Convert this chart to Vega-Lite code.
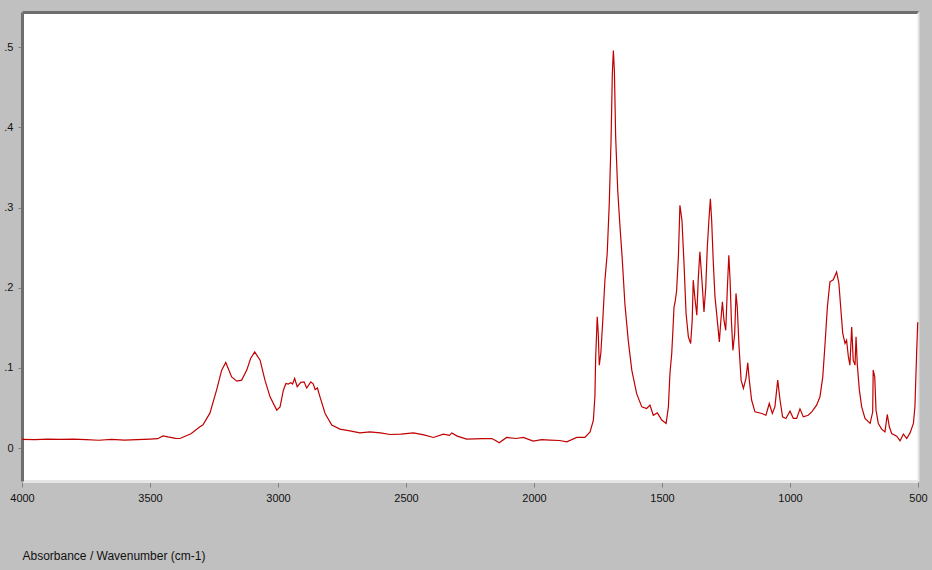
{
  "$schema": "https://vega.github.io/schema/vega-lite/v6.json",
  "width": 896,
  "height": 469,
  "autosize": {"type": "none"},
  "padding": {"left": 22, "top": 12, "right": 14, "bottom": 89},
  "background": "#c0c0c0",
  "config": {"view": {"fill": "white", "stroke": null}, "font": "Liberation Sans"},
  "data": {"values": [
    {"w": 4000, "a": 0.011}, {"w": 3950, "a": 0.0105}, {"w": 3900, "a": 0.0112}, {"w": 3850, "a": 0.0108},
    {"w": 3800, "a": 0.0113}, {"w": 3750, "a": 0.0105}, {"w": 3700, "a": 0.0098}, {"w": 3650, "a": 0.0108},
    {"w": 3600, "a": 0.0101}, {"w": 3550, "a": 0.0105}, {"w": 3500, "a": 0.0112}, {"w": 3470, "a": 0.0118},
    {"w": 3449, "a": 0.0153}, {"w": 3430, "a": 0.014}, {"w": 3400, "a": 0.0122}, {"w": 3383, "a": 0.012},
    {"w": 3340, "a": 0.018}, {"w": 3305, "a": 0.0266}, {"w": 3293, "a": 0.029}, {"w": 3266, "a": 0.0436},
    {"w": 3240, "a": 0.0723}, {"w": 3220, "a": 0.0973}, {"w": 3204, "a": 0.1068}, {"w": 3181, "a": 0.0889},
    {"w": 3161, "a": 0.0835}, {"w": 3142, "a": 0.0848}, {"w": 3122, "a": 0.0973}, {"w": 3107, "a": 0.1118},
    {"w": 3091, "a": 0.12}, {"w": 3070, "a": 0.1097}, {"w": 3051, "a": 0.0848}, {"w": 3031, "a": 0.064},
    {"w": 3005, "a": 0.0474}, {"w": 2992, "a": 0.0515}, {"w": 2979, "a": 0.0723}, {"w": 2969, "a": 0.0807},
    {"w": 2960, "a": 0.08}, {"w": 2950, "a": 0.0815}, {"w": 2943, "a": 0.08}, {"w": 2935, "a": 0.087},
    {"w": 2925, "a": 0.0765}, {"w": 2911, "a": 0.082}, {"w": 2898, "a": 0.0827}, {"w": 2888, "a": 0.075},
    {"w": 2872, "a": 0.0827}, {"w": 2862, "a": 0.08}, {"w": 2855, "a": 0.073}, {"w": 2846, "a": 0.075},
    {"w": 2836, "a": 0.064}, {"w": 2816, "a": 0.0432}, {"w": 2790, "a": 0.0287}, {"w": 2758, "a": 0.0237},
    {"w": 2719, "a": 0.0216}, {"w": 2680, "a": 0.019}, {"w": 2641, "a": 0.0203}, {"w": 2600, "a": 0.019},
    {"w": 2562, "a": 0.017}, {"w": 2520, "a": 0.0175}, {"w": 2471, "a": 0.019}, {"w": 2430, "a": 0.0165},
    {"w": 2393, "a": 0.0133}, {"w": 2354, "a": 0.0175}, {"w": 2330, "a": 0.016}, {"w": 2321, "a": 0.019},
    {"w": 2300, "a": 0.015}, {"w": 2263, "a": 0.0112}, {"w": 2200, "a": 0.0118}, {"w": 2165, "a": 0.012},
    {"w": 2150, "a": 0.0095}, {"w": 2136, "a": 0.0066}, {"w": 2107, "a": 0.0133}, {"w": 2070, "a": 0.012},
    {"w": 2042, "a": 0.0133}, {"w": 2003, "a": 0.0087}, {"w": 1970, "a": 0.0105}, {"w": 1937, "a": 0.01},
    {"w": 1900, "a": 0.0095}, {"w": 1872, "a": 0.0079}, {"w": 1833, "a": 0.0133}, {"w": 1801, "a": 0.0133},
    {"w": 1781, "a": 0.0203}, {"w": 1768, "a": 0.035}, {"w": 1762, "a": 0.065}, {"w": 1759, "a": 0.114},
    {"w": 1755, "a": 0.147}, {"w": 1753, "a": 0.1637}, {"w": 1749, "a": 0.143}, {"w": 1745, "a": 0.1035},
    {"w": 1739, "a": 0.118}, {"w": 1732, "a": 0.1555}, {"w": 1723, "a": 0.2095}, {"w": 1714, "a": 0.2428},
    {"w": 1706, "a": 0.305}, {"w": 1699, "a": 0.384}, {"w": 1694, "a": 0.467}, {"w": 1690, "a": 0.496},
    {"w": 1686, "a": 0.471}, {"w": 1681, "a": 0.388}, {"w": 1673, "a": 0.3217}, {"w": 1664, "a": 0.276},
    {"w": 1655, "a": 0.2344}, {"w": 1645, "a": 0.18}, {"w": 1632, "a": 0.1347}, {"w": 1618, "a": 0.0973},
    {"w": 1599, "a": 0.068}, {"w": 1579, "a": 0.0515}, {"w": 1560, "a": 0.0495}, {"w": 1547, "a": 0.0536},
    {"w": 1534, "a": 0.041}, {"w": 1518, "a": 0.044}, {"w": 1501, "a": 0.035}, {"w": 1484, "a": 0.0308},
    {"w": 1475, "a": 0.0515}, {"w": 1469, "a": 0.093}, {"w": 1462, "a": 0.118}, {"w": 1458, "a": 0.143},
    {"w": 1453, "a": 0.176}, {"w": 1449, "a": 0.182}, {"w": 1443, "a": 0.196}, {"w": 1436, "a": 0.2385},
    {"w": 1430, "a": 0.303}, {"w": 1422, "a": 0.284}, {"w": 1414, "a": 0.23}, {"w": 1406, "a": 0.168},
    {"w": 1397, "a": 0.1388}, {"w": 1388, "a": 0.1305}, {"w": 1382, "a": 0.1596}, {"w": 1378, "a": 0.2095},
    {"w": 1372, "a": 0.1887}, {"w": 1364, "a": 0.1658}, {"w": 1358, "a": 0.2136}, {"w": 1352, "a": 0.2448},
    {"w": 1344, "a": 0.2095}, {"w": 1336, "a": 0.17}, {"w": 1329, "a": 0.201}, {"w": 1323, "a": 0.251},
    {"w": 1316, "a": 0.2884}, {"w": 1311, "a": 0.311}, {"w": 1306, "a": 0.284}, {"w": 1300, "a": 0.2344},
    {"w": 1293, "a": 0.1887}, {"w": 1284, "a": 0.1596}, {"w": 1276, "a": 0.1325}, {"w": 1270, "a": 0.1596},
    {"w": 1264, "a": 0.1824}, {"w": 1258, "a": 0.1596}, {"w": 1251, "a": 0.147}, {"w": 1245, "a": 0.197},
    {"w": 1239, "a": 0.2406}, {"w": 1234, "a": 0.2095}, {"w": 1229, "a": 0.1596}, {"w": 1223, "a": 0.122},
    {"w": 1216, "a": 0.143}, {"w": 1211, "a": 0.193}, {"w": 1206, "a": 0.176}, {"w": 1199, "a": 0.1263},
    {"w": 1191, "a": 0.0848}, {"w": 1182, "a": 0.0744}, {"w": 1172, "a": 0.087}, {"w": 1165, "a": 0.1064},
    {"w": 1159, "a": 0.0848}, {"w": 1150, "a": 0.06}, {"w": 1137, "a": 0.0453}, {"w": 1110, "a": 0.0432},
    {"w": 1094, "a": 0.041}, {"w": 1081, "a": 0.0557}, {"w": 1069, "a": 0.0432}, {"w": 1059, "a": 0.0515},
    {"w": 1048, "a": 0.0848}, {"w": 1039, "a": 0.06}, {"w": 1029, "a": 0.039}, {"w": 1016, "a": 0.037},
    {"w": 1000, "a": 0.0461}, {"w": 987, "a": 0.037}, {"w": 974, "a": 0.037}, {"w": 961, "a": 0.049},
    {"w": 948, "a": 0.039}, {"w": 929, "a": 0.041}, {"w": 915, "a": 0.0453}, {"w": 896, "a": 0.0536},
    {"w": 883, "a": 0.064}, {"w": 872, "a": 0.0889}, {"w": 863, "a": 0.1305}, {"w": 854, "a": 0.176},
    {"w": 844, "a": 0.2074}, {"w": 831, "a": 0.21}, {"w": 818, "a": 0.2198}, {"w": 809, "a": 0.2054},
    {"w": 802, "a": 0.176}, {"w": 794, "a": 0.143}, {"w": 785, "a": 0.1305}, {"w": 779, "a": 0.1347},
    {"w": 772, "a": 0.114}, {"w": 766, "a": 0.1035}, {"w": 759, "a": 0.151}, {"w": 753, "a": 0.1097},
    {"w": 746, "a": 0.1035}, {"w": 742, "a": 0.1388}, {"w": 737, "a": 0.1035}, {"w": 729, "a": 0.0723},
    {"w": 720, "a": 0.0515}, {"w": 707, "a": 0.037}, {"w": 687, "a": 0.0308}, {"w": 677, "a": 0.045},
    {"w": 675, "a": 0.0973}, {"w": 669, "a": 0.0889}, {"w": 664, "a": 0.0474}, {"w": 655, "a": 0.0308},
    {"w": 642, "a": 0.0237}, {"w": 629, "a": 0.0203}, {"w": 620, "a": 0.042}, {"w": 612, "a": 0.0266},
    {"w": 603, "a": 0.0183}, {"w": 583, "a": 0.015}, {"w": 570, "a": 0.0091}, {"w": 557, "a": 0.0175},
    {"w": 544, "a": 0.012}, {"w": 531, "a": 0.019}, {"w": 518, "a": 0.0308}, {"w": 512, "a": 0.0515},
    {"w": 505, "a": 0.122}, {"w": 501, "a": 0.157}
  ]},
  "layer": [
    {
      "mark": {"type": "line", "color": "#c00000", "strokeWidth": 1.2},
      "encoding": {
        "x": {
          "field": "w", "type": "quantitative",
          "scale": {"domain": [500, 4000], "reverse": true, "nice": false, "zero": false},
          "axis": {
            "orient": "bottom", "values": [4000, 3500, 3000, 2500, 2000, 1500, 1000, 500], "format": "d",
            "grid": false, "domainColor": "#e6e6e6", "domainWidth": 3, "tickColor": "#808080", "tickSize": 6,
            "labelFont": "Liberation Sans", "labelFontSize": 11, "labelColor": "#111111", "labelPadding": 5, "labelFlush": false,
            "title": "Absorbance / Wavenumber (cm-1)", "titleFont": "Liberation Sans", "titleFontSize": 12,
            "titleFontWeight": "normal", "titleColor": "#111111", "titleAnchor": "start", "titleAlign": "left",
            "titleX": 0, "titleY": 74, "titleBaseline": "middle"
          }
        },
        "y": {
          "field": "a", "type": "quantitative",
          "scale": {"domain": [-0.041, 0.544], "nice": false, "zero": false},
          "axis": {
            "orient": "left", "values": [0, 0.1, 0.2, 0.3, 0.4, 0.5],
            "labelExpr": "datum.value == 0 ? '0' : replace(format(datum.value, '.1f'), '0.', '.')",
            "grid": false, "domainColor": "#6e6e6e", "domainWidth": 3, "tickColor": "#808080", "tickSize": 4,
            "labelFont": "Liberation Sans", "labelFontSize": 11, "labelColor": "#111111", "labelPadding": 5,
            "title": null
          }
        }
      }
    },
    {
      "mark": {"type": "line", "strokeOpacity": 0},
      "encoding": {
        "x": {
          "field": "w", "type": "quantitative",
          "scale": {"domain": [500, 4000], "reverse": true, "nice": false, "zero": false},
          "axis": {"orient": "top", "labels": false, "ticks": false, "grid": false, "domainColor": "#6e6e6e", "domainWidth": 3, "title": null}
        },
        "y": {
          "field": "a", "type": "quantitative",
          "scale": {"domain": [-0.041, 0.544], "nice": false, "zero": false},
          "axis": {"orient": "right", "labels": false, "ticks": false, "grid": false, "domainColor": "#e6e6e6", "domainWidth": 2, "title": null}
        }
      }
    }
  ],
  "resolve": {"axis": {"x": "independent", "y": "independent"}}
}
